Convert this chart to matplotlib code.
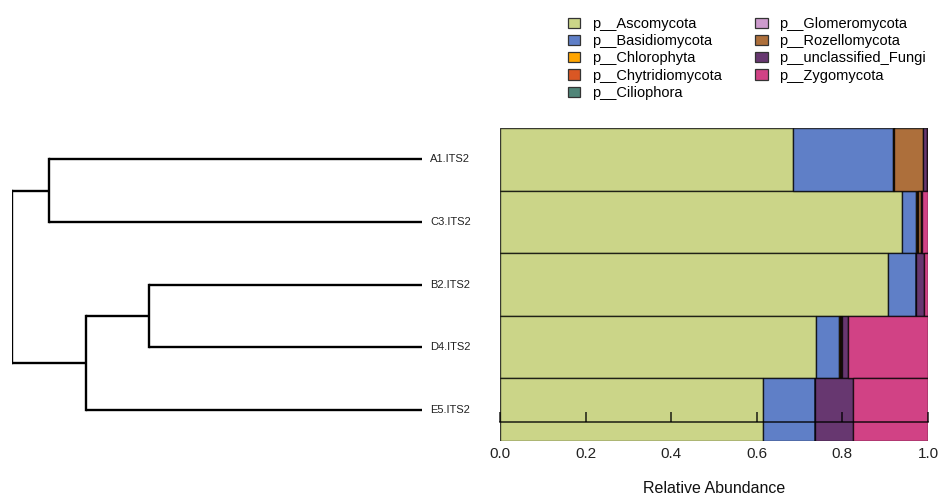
import matplotlib
matplotlib.use("Agg")
import matplotlib.pyplot as plt
from matplotlib.patches import Patch
import numpy as np

plt.rcParams['font.family'] = ['Liberation Sans', 'DejaVu Sans']

# samples, top to bottom (dendrogram leaf order)
samples = ['A1.ITS2', 'C3.ITS2', 'B2.ITS2', 'D4.ITS2', 'E5.ITS2']

phyla = ['p__Ascomycota', 'p__Basidiomycota', 'p__Chlorophyta', 'p__Chytridiomycota',
         'p__Ciliophora', 'p__Glomeromycota', 'p__Rozellomycota',
         'p__unclassified_Fungi', 'p__Zygomycota']
colors = ['#CBD588', '#5F7FC7', 'orange', '#DA5724', '#508578',
          '#CD9BCD', '#AD6F3B', '#673770', '#D14285']

# relative abundance per sample (same order as samples)
ascomycota    = [0.685, 0.939, 0.907, 0.738, 0.615]
basidiomycota = [0.233, 0.033, 0.065, 0.054, 0.122]
chlorophyta   = [0.002, 0.003, 0.000, 0.002, 0.000]
chytridio     = [0.001, 0.002, 0.000, 0.002, 0.000]
ciliophora    = [0.000, 0.000, 0.000, 0.001, 0.000]
glomero       = [0.000, 0.000, 0.000, 0.000, 0.000]
rozello       = [0.067, 0.006, 0.000, 0.001, 0.000]
unclassified  = [0.009, 0.004, 0.019, 0.015, 0.088]
zygomycota    = [0.003, 0.013, 0.009, 0.187, 0.175]
abund = [ascomycota, basidiomycota, chlorophyta, chytridio, ciliophora,
         glomero, rozello, unclassified, zygomycota]

# dendrogram: merges as (left, right, height); ids >= 5 refer to earlier merges
merges = [(0, 1, 0.91),   # A1 + C3
          (2, 3, 0.666),  # B2 + D4
          (6, 4, 0.82),   # (B2,D4) + E5
          (5, 7, 1.0)]    # root

W, H = 941, 497
fig = plt.figure(figsize=(W / 100, H / 100), dpi=100)

ypos = np.arange(len(samples))[::-1]  # A1 at top
bot = (H - 441) / H
ht = 313 / H

# ---- dendrogram ----
axd = fig.add_axes([12 / W, bot, 410 / W, ht])
node_y = list(ypos.astype(float))
node_h = [0.0] * len(samples)
for a, b, h in merges:
    for c in (a, b):
        axd.plot([node_h[c], h], [node_y[c], node_y[c]], color='black', lw=1.7,
                 solid_capstyle='butt')
    axd.plot([h, h], [node_y[a], node_y[b]], color='black', lw=1.7,
             solid_capstyle='projecting')
    node_y.append((node_y[a] + node_y[b]) / 2)
    node_h.append(h)
axd.set_xlim(1.0, 0.0)
axd.set_ylim(-0.5, len(samples) - 0.5)
for s, y in zip(samples, ypos):
    axd.annotate(s, (0, y), xytext=(6, 0), textcoords='offset points',
                 ha='left', va='center', fontsize=8, color='#222222',
                 annotation_clip=False)
axd.axis('off')

# ---- stacked bars ----
axb = fig.add_axes([500 / W, bot, 428 / W, ht])
left = np.zeros(len(samples))
for vals, col in zip(abund, colors):
    vals = np.array(vals)
    axb.barh(ypos, vals, left=left, height=1.0, color=col,
             edgecolor=(0, 0, 0, 0.75), linewidth=1.0)
    left += vals
axb.set_xlim(0, 1)
axb.set_ylim(-0.5, len(samples) - 0.5)
for sp in axb.spines.values():
    sp.set_visible(False)
axb.set_yticks([])
ticks = [0.0, 0.2, 0.4, 0.6, 0.8, 1.0]
axb.set_xticks(ticks)
axb.set_xticklabels(['%.1f' % t for t in ticks])
axb.tick_params(axis='x', length=0, pad=4, labelsize=11, labelcolor='#222222')
axb.set_xlabel('Relative Abundance', fontsize=11.5, labelpad=15, color='#111111')

# inner axis line with upward ticks, drawn on top of the bars
axt = fig.add_axes([500 / W, bot, 428 / W, ht], zorder=5)
axt.patch.set_visible(False)
axt.set_xlim(0, 1)
for k in ('top', 'left', 'right'):
    axt.spines[k].set_visible(False)
axt.spines['bottom'].set_position(('axes', 19 / 313))
axt.spines['bottom'].set_linewidth(1.2)
axt.spines['bottom'].set_color((0, 0, 0, 0.8))
axt.set_yticks([])
axt.set_xticks(ticks)
axt.tick_params(axis='x', direction='in', length=7, width=1.2, labelbottom=False,
                color=(0, 0, 0, 0.8))

# ---- legend ----
handles = [Patch(facecolor=c, edgecolor='#333333', linewidth=0.9) for c in colors]
fig.legend(handles, phyla, loc='upper left', bbox_to_anchor=(565 / W, 1 - 14 / H),
           ncol=2, frameon=False, fontsize=10.5, handlelength=0.85,
           handleheight=0.7, handletextpad=0.8, labelspacing=0.22,
           columnspacing=2.3, borderpad=0.2, borderaxespad=0)

fig.savefig('out.png', dpi=100)
